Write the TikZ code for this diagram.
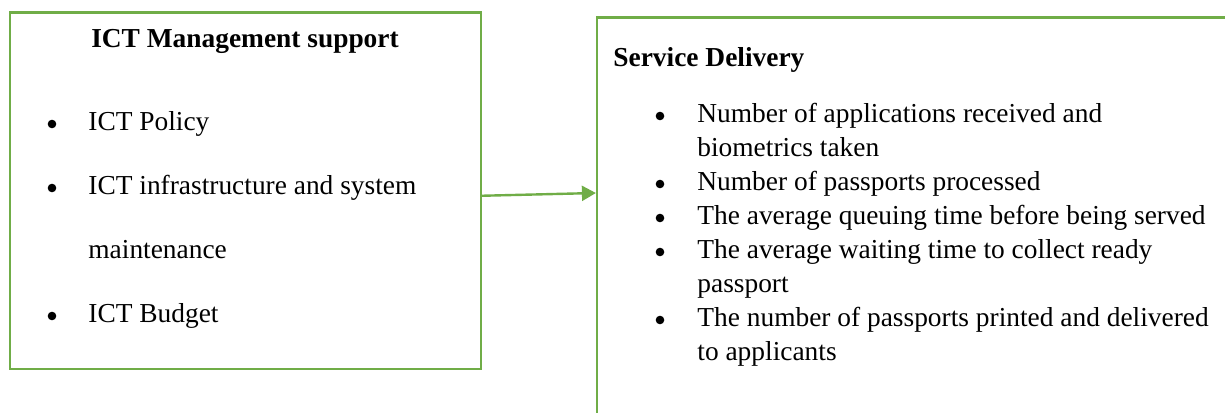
\documentclass[tikz,border=0pt]{standalone}
\usepackage{fontspec}
\setmainfont{Liberation Serif}
\usetikzlibrary{arrows.meta,calc}
\definecolor{boxgreen}{HTML}{70AD47}
\tikzset{
  box/.style={draw=boxgreen, line width=1.1pt, inner sep=0pt},
  txt/.style={anchor=base west, inner sep=0pt, font=\fontsize{13.7}{16}\selectfont},
  ttl/.style={anchor=base, inner sep=0pt, font=\fontsize{13.7}{16}\selectfont\bfseries},
  bul/.style={circle, fill=black, inner sep=0pt, minimum size=4.3pt},
  arr/.style={draw=boxgreen, line width=1.2pt, -{Triangle[length=7pt,width=7.5pt]}}
}
\begin{document}
\begin{tikzpicture}[x=0.5pt,y=-0.5pt]
\useasboundingbox (0,0) rectangle (1225,412);
\clip (0,0) rectangle (1225,412);
\node[box, minimum width=235.5pt, minimum height=178.25pt] (L) at (245.5,190.75) {};
\node[box, minimum width=330pt, minimum height=206.25pt] (R) at (927,223.75) {};
% left content
\node[ttl] (lt) at (245,47) {ICT Management support};
\node[bul] (lb1) at (52,124) {};
\node[txt] (l1) at (88,130) {ICT Policy};
\node[bul] (lb2) at (52,188) {};
\node[txt] (l2) at (88,194) {ICT infrastructure and system};
\node[txt] (l3) at (88,258) {maintenance};
\node[bul] (lb3) at (52,316) {};
\node[txt] (l4) at (88,322) {ICT Budget};
% right content
\node[ttl, anchor=base west] (rt) at (613,66) {Service Delivery};
\node[bul] (rb1) at (660,116) {};
\node[txt] (r1) at (697,122) {Number of applications received and};
\node[txt] (r2) at (697,156) {biometrics taken};
\node[bul] (rb2) at (660,184) {};
\node[txt] (r3) at (697,190) {Number of passports processed};
\node[bul] (rb3) at (660,218) {};
\node[txt] (r4) at (697,224) {The average queuing time before being served};
\node[bul] (rb4) at (660,252) {};
\node[txt] (r5) at (697,258) {The average waiting time to collect ready};
\node[txt] (r6) at (697,292) {passport};
\node[bul] (rb5) at (660,320) {};
\node[txt] (r7) at (697,326) {The number of passports printed and delivered};
\node[txt] (r8) at (697,360) {to applicants};
% connector
\draw[arr] ($(L.east)+(0,5)$) -- ($(R.west)+(0,-30.75)$);
\end{tikzpicture}
\end{document}
